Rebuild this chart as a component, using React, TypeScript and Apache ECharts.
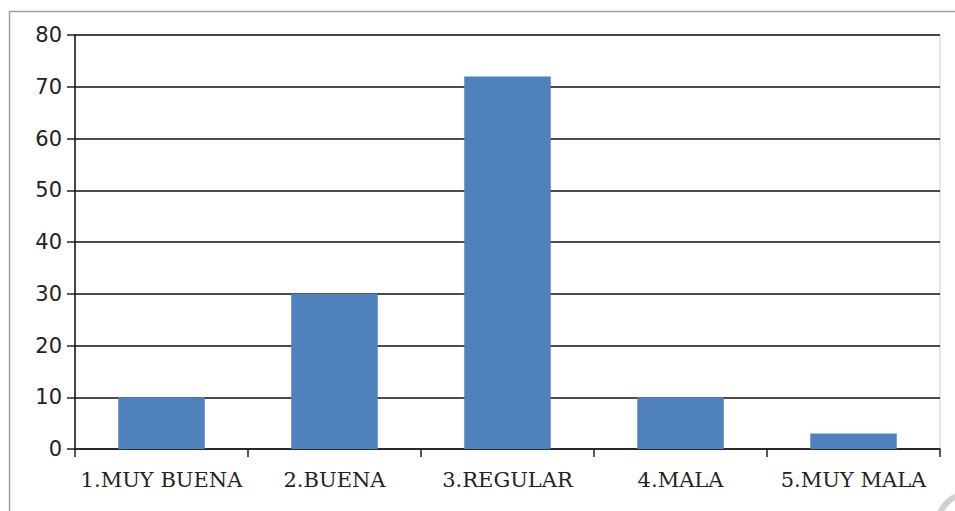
import React, { useEffect, useRef } from "react";
import * as echarts from "echarts";

const categories = ["1.MUY BUENA", "2.BUENA", "3.REGULAR", "4.MALA", "5.MUY MALA"];
const values = [10, 30, 72, 10, 3];
const yTicks = { min: 0, max: 80, interval: 10 };

export default function App() {
  const ref = useRef<HTMLDivElement>(null);
  useEffect(() => {
    if (!ref.current) return;
    const chart = echarts.init(ref.current, null, { renderer: "svg" });
    chart.setOption({
      animation: false,
      backgroundColor: "#fff",
      grid: {
        left: 75,
        right: 15,
        top: 35,
        bottom: 62,
        show: true,
        borderColor: "#c8c8c8",
        borderWidth: 1,
        backgroundColor: "transparent",
      },
      graphic: [
        {
          type: "rect",
          left: 7,
          top: 9,
          shape: { width: 1000, height: 600 },
          style: { fill: "none", stroke: "#a0a0a0", lineWidth: 1.5 },
          z: 0,
        },
        {
          type: "arc",
          shape: { cx: 968, cy: 524, r: 30, startAngle: Math.PI, endAngle: Math.PI * 1.5 },
          style: { fill: "none", stroke: "#d0d0d0", lineWidth: 6 },
          z: 10,
        },
      ],
      xAxis: {
        type: "category",
        data: categories,
        axisLine: { show: true, lineStyle: { color: "#222", width: 1.5 } },
        axisTick: { show: true, length: 8, lineStyle: { color: "#222", width: 1.5 } },
        axisLabel: {
          interval: 0,
          fontFamily: "DejaVu Serif",
          fontSize: 21,
          color: "#222",
          margin: 20,
        },
        splitLine: { show: false },
      },
      yAxis: {
        type: "value",
        min: yTicks.min,
        max: yTicks.max,
        interval: yTicks.interval,
        axisLine: { show: true, lineStyle: { color: "#111", width: 1.5 } },
        axisTick: { show: true, length: 8, lineStyle: { color: "#222", width: 1.5 } },
        axisLabel: {
          fontFamily: "DejaVu Sans",
          fontSize: 21,
          color: "#222",
          margin: 13,
        },
        splitLine: { show: true, lineStyle: { color: "#111", width: 1.5 } },
      },
      series: [
        {
          type: "bar",
          data: values,
          barWidth: "50%",
          itemStyle: { color: "#4F81BD" },
        },
      ],
    });
    return () => chart.dispose();
  }, []);
  return (
    <div
      ref={ref}
      style={{ position: "fixed", left: 0, top: 0, width: 955, height: 511 }}
    />
  );
}
